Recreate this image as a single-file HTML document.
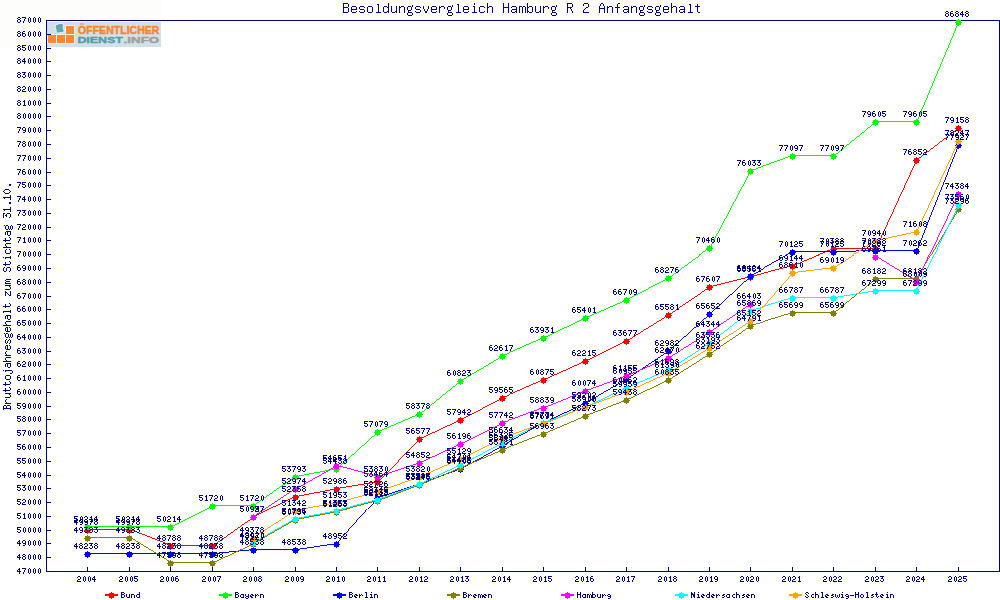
<!DOCTYPE html>
<html><head><meta charset="utf-8"><title>Besoldungsvergleich Hamburg R 2 Anfangsgehalt</title>
<style>html,body{margin:0;padding:0;background:#fff;overflow:hidden}svg{display:block}</style></head>
<body><svg width="1000" height="600" viewBox="0 0 1000 600" font-family="Liberation Sans, sans-serif">
<defs><path id="mk" d="M3 0h1v1h-1zM1 1h5v2h-5zM0 3h7v1h-7zM1 4h5v2h-5zM3 6h1v1h-1z"/><path id="a2d" d="M0 4h4v1h-4z"/><path id="a30" d="M2 1h1v1h-1zM1 2h1v1h-1zM3 2h1v1h-1zM1 3h1v1h-1zM3 3h1v1h-1zM1 4h1v1h-1zM3 4h1v1h-1zM1 5h1v1h-1zM3 5h1v1h-1zM2 6h1v1h-1z"/><path id="a31" d="M2 1h1v1h-1zM1 2h2v1h-2zM2 3h1v1h-1zM2 4h1v1h-1zM2 5h1v1h-1zM1 6h3v1h-3z"/><path id="a32" d="M1 1h2v1h-2zM0 2h1v1h-1zM3 2h1v1h-1zM3 3h1v1h-1zM1 4h2v1h-2zM0 5h1v1h-1zM0 6h4v1h-4z"/><path id="a33" d="M0 1h4v1h-4zM2 2h1v1h-1zM1 3h2v1h-2zM3 4h1v1h-1zM0 5h1v1h-1zM3 5h1v1h-1zM1 6h2v1h-2z"/><path id="a34" d="M2 1h1v1h-1zM1 2h2v1h-2zM0 3h1v1h-1zM2 3h1v1h-1zM0 4h4v1h-4zM2 5h1v1h-1zM2 6h1v1h-1z"/><path id="a35" d="M0 1h4v1h-4zM0 2h1v1h-1zM0 3h3v1h-3zM3 4h1v1h-1zM0 5h1v1h-1zM3 5h1v1h-1zM1 6h2v1h-2z"/><path id="a36" d="M1 1h2v1h-2zM0 2h1v1h-1zM0 3h3v1h-3zM0 4h1v1h-1zM3 4h1v1h-1zM0 5h1v1h-1zM3 5h1v1h-1zM1 6h2v1h-2z"/><path id="a37" d="M0 1h4v1h-4zM3 2h1v1h-1zM2 3h1v1h-1zM2 4h1v1h-1zM1 5h1v1h-1zM1 6h1v1h-1z"/><path id="a38" d="M1 1h2v1h-2zM0 2h1v1h-1zM3 2h1v1h-1zM1 3h2v1h-2zM0 4h1v1h-1zM3 4h1v1h-1zM0 5h1v1h-1zM3 5h1v1h-1zM1 6h2v1h-2z"/><path id="a39" d="M1 1h2v1h-2zM0 2h1v1h-1zM3 2h1v1h-1zM0 3h1v1h-1zM3 3h1v1h-1zM1 4h3v1h-3zM3 5h1v1h-1zM1 6h2v1h-2z"/><path id="a42" d="M0 1h3v1h-3zM0 2h1v1h-1zM3 2h1v1h-1zM0 3h3v1h-3zM0 4h1v1h-1zM3 4h1v1h-1zM0 5h1v1h-1zM3 5h1v1h-1zM0 6h3v1h-3z"/><path id="a48" d="M0 1h1v1h-1zM3 1h1v1h-1zM0 2h1v1h-1zM3 2h1v1h-1zM0 3h4v1h-4zM0 4h1v1h-1zM3 4h1v1h-1zM0 5h1v1h-1zM3 5h1v1h-1zM0 6h1v1h-1zM3 6h1v1h-1z"/><path id="a4e" d="M0 1h1v1h-1zM3 1h1v1h-1zM0 2h2v1h-2zM3 2h1v1h-1zM0 3h4v1h-4zM0 4h1v1h-1zM2 4h2v1h-2zM0 5h1v1h-1zM2 5h2v1h-2zM0 6h1v1h-1zM3 6h1v1h-1z"/><path id="a53" d="M1 1h2v1h-2zM0 2h1v1h-1zM3 2h1v1h-1zM1 3h1v1h-1zM2 4h1v1h-1zM0 5h1v1h-1zM3 5h1v1h-1zM1 6h2v1h-2z"/><path id="a61" d="M1 3h3v1h-3zM0 4h1v1h-1zM3 4h1v1h-1zM0 5h1v1h-1zM3 5h1v1h-1zM1 6h3v1h-3z"/><path id="a62" d="M0 1h1v1h-1zM0 2h1v1h-1zM0 3h3v1h-3zM0 4h1v1h-1zM3 4h1v1h-1zM0 5h1v1h-1zM3 5h1v1h-1zM0 6h3v1h-3z"/><path id="a63" d="M2 3h2v1h-2zM1 4h1v1h-1zM1 5h1v1h-1zM2 6h2v1h-2z"/><path id="a64" d="M3 1h1v1h-1zM3 2h1v1h-1zM1 3h3v1h-3zM0 4h1v1h-1zM3 4h1v1h-1zM0 5h1v1h-1zM3 5h1v1h-1zM1 6h3v1h-3z"/><path id="a65" d="M1 3h2v1h-2zM0 4h1v1h-1zM2 4h2v1h-2zM0 5h2v1h-2zM1 6h2v1h-2z"/><path id="a67" d="M1 3h2v1h-2zM0 4h1v1h-1zM3 4h1v1h-1zM1 5h3v1h-3zM3 6h1v1h-1zM1 7h2v1h-2z"/><path id="a68" d="M0 1h1v1h-1zM0 2h1v1h-1zM0 3h3v1h-3zM0 4h1v1h-1zM3 4h1v1h-1zM0 5h1v1h-1zM3 5h1v1h-1zM0 6h1v1h-1zM3 6h1v1h-1z"/><path id="a69" d="M2 1h1v1h-1zM1 3h2v1h-2zM2 4h1v1h-1zM2 5h1v1h-1zM1 6h3v1h-3z"/><path id="a6c" d="M1 1h2v1h-2zM2 2h1v1h-1zM2 3h1v1h-1zM2 4h1v1h-1zM2 5h1v1h-1zM1 6h3v1h-3z"/><path id="a6d" d="M0 3h2v1h-2zM3 3h1v1h-1zM0 4h1v1h-1zM2 4h1v1h-1zM4 4h1v1h-1zM0 5h1v1h-1zM2 5h1v1h-1zM4 5h1v1h-1zM0 6h1v1h-1zM2 6h1v1h-1zM4 6h1v1h-1z"/><path id="a6e" d="M0 3h3v1h-3zM0 4h1v1h-1zM3 4h1v1h-1zM0 5h1v1h-1zM3 5h1v1h-1zM0 6h1v1h-1zM3 6h1v1h-1z"/><path id="a6f" d="M1 3h2v1h-2zM0 4h1v1h-1zM3 4h1v1h-1zM0 5h1v1h-1zM3 5h1v1h-1zM1 6h2v1h-2z"/><path id="a72" d="M0 3h1v1h-1zM2 3h1v1h-1zM0 4h2v1h-2zM3 4h1v1h-1zM0 5h1v1h-1zM0 6h1v1h-1z"/><path id="a73" d="M2 3h2v1h-2zM1 4h2v1h-2zM3 5h1v1h-1zM1 6h2v1h-2z"/><path id="a74" d="M1 1h1v1h-1zM1 2h1v1h-1zM0 3h3v1h-3zM1 4h1v1h-1zM1 5h1v1h-1zM3 5h1v1h-1zM2 6h1v1h-1z"/><path id="a75" d="M0 3h1v1h-1zM3 3h1v1h-1zM0 4h1v1h-1zM3 4h1v1h-1zM0 5h1v1h-1zM3 5h1v1h-1zM1 6h3v1h-3z"/><path id="a77" d="M0 3h1v1h-1zM4 3h1v1h-1zM0 4h1v1h-1zM2 4h1v1h-1zM4 4h1v1h-1zM0 5h1v1h-1zM2 5h1v1h-1zM4 5h1v1h-1zM1 6h1v1h-1zM3 6h1v1h-1z"/><path id="a79" d="M0 3h1v1h-1zM3 3h1v1h-1zM0 4h1v1h-1zM3 4h1v1h-1zM1 5h3v1h-3zM0 6h1v1h-1zM3 6h1v1h-1zM1 7h2v1h-2z"/><path id="b2e" d="M2 9h2v1h-2zM2 10h2v1h-2z"/><path id="b30" d="M2 3h1v1h-1zM1 4h1v1h-1zM3 4h1v1h-1zM0 5h1v1h-1zM4 5h1v1h-1zM0 6h1v1h-1zM4 6h1v1h-1zM0 7h1v1h-1zM4 7h1v1h-1zM0 8h1v1h-1zM4 8h1v1h-1zM1 9h1v1h-1zM3 9h1v1h-1zM2 10h1v1h-1z"/><path id="b31" d="M2 3h1v1h-1zM1 4h2v1h-2zM2 5h1v1h-1zM2 6h1v1h-1zM2 7h1v1h-1zM2 8h1v1h-1zM2 9h1v1h-1zM0 10h5v1h-5z"/><path id="b33" d="M0 3h5v1h-5zM4 4h1v1h-1zM2 5h1v1h-1zM1 6h3v1h-3zM4 7h1v1h-1zM4 8h1v1h-1zM0 9h1v1h-1zM4 9h1v1h-1zM1 10h3v1h-3z"/><path id="b42" d="M0 3h4v1h-4zM1 4h1v1h-1zM4 4h1v1h-1zM1 5h1v1h-1zM4 5h1v1h-1zM1 6h3v1h-3zM1 7h1v1h-1zM4 7h1v1h-1zM1 8h1v1h-1zM4 8h1v1h-1zM1 9h1v1h-1zM4 9h1v1h-1zM0 10h4v1h-4z"/><path id="b53" d="M1 3h3v1h-3zM0 4h1v1h-1zM4 4h1v1h-1zM0 5h1v1h-1zM1 6h3v1h-3zM4 7h1v1h-1zM4 8h1v1h-1zM0 9h1v1h-1zM4 9h1v1h-1zM1 10h3v1h-3z"/><path id="b61" d="M1 5h3v1h-3zM4 6h1v1h-1zM1 7h4v1h-4zM0 8h1v1h-1zM4 8h1v1h-1zM0 9h1v1h-1zM4 9h1v1h-1zM1 10h4v1h-4z"/><path id="b63" d="M1 5h3v1h-3zM0 6h1v1h-1zM4 6h1v1h-1zM0 7h1v1h-1zM0 8h1v1h-1zM0 9h1v1h-1zM4 9h1v1h-1zM1 10h3v1h-3z"/><path id="b65" d="M1 5h3v1h-3zM0 6h1v1h-1zM4 6h1v1h-1zM0 7h5v1h-5zM0 8h1v1h-1zM0 9h1v1h-1zM4 9h1v1h-1zM1 10h3v1h-3z"/><path id="b67" d="M4 4h1v1h-1zM1 5h3v1h-3zM0 6h1v1h-1zM4 6h1v1h-1zM0 7h1v1h-1zM4 7h1v1h-1zM1 8h3v1h-3zM0 9h1v1h-1zM1 10h3v1h-3zM0 11h1v1h-1zM4 11h1v1h-1zM1 12h3v1h-3z"/><path id="b68" d="M0 3h1v1h-1zM0 4h1v1h-1zM0 5h1v1h-1zM2 5h2v1h-2zM0 6h2v1h-2zM4 6h1v1h-1zM0 7h1v1h-1zM4 7h1v1h-1zM0 8h1v1h-1zM4 8h1v1h-1zM0 9h1v1h-1zM4 9h1v1h-1zM0 10h1v1h-1zM4 10h1v1h-1z"/><path id="b69" d="M2 3h1v1h-1zM1 5h2v1h-2zM2 6h1v1h-1zM2 7h1v1h-1zM2 8h1v1h-1zM2 9h1v1h-1zM1 10h3v1h-3z"/><path id="b6a" d="M3 3h1v1h-1zM2 5h2v1h-2zM3 6h1v1h-1zM3 7h1v1h-1zM3 8h1v1h-1zM3 9h1v1h-1zM0 10h1v1h-1zM3 10h1v1h-1zM0 11h1v1h-1zM3 11h1v1h-1zM1 12h2v1h-2z"/><path id="b6c" d="M1 3h2v1h-2zM2 4h1v1h-1zM2 5h1v1h-1zM2 6h1v1h-1zM2 7h1v1h-1zM2 8h1v1h-1zM2 9h1v1h-1zM1 10h3v1h-3z"/><path id="b6d" d="M0 5h2v1h-2zM3 5h1v1h-1zM0 6h1v1h-1zM2 6h1v1h-1zM4 6h1v1h-1zM0 7h1v1h-1zM2 7h1v1h-1zM4 7h1v1h-1zM0 8h1v1h-1zM2 8h1v1h-1zM4 8h1v1h-1zM0 9h1v1h-1zM2 9h1v1h-1zM4 9h1v1h-1zM0 10h1v1h-1zM4 10h1v1h-1z"/><path id="b6f" d="M1 5h3v1h-3zM0 6h1v1h-1zM4 6h1v1h-1zM0 7h1v1h-1zM4 7h1v1h-1zM0 8h1v1h-1zM4 8h1v1h-1zM0 9h1v1h-1zM4 9h1v1h-1zM1 10h3v1h-3z"/><path id="b72" d="M0 5h1v1h-1zM2 5h2v1h-2zM0 6h2v1h-2zM4 6h1v1h-1zM0 7h1v1h-1zM0 8h1v1h-1zM0 9h1v1h-1zM0 10h1v1h-1z"/><path id="b73" d="M1 5h3v1h-3zM0 6h1v1h-1zM4 6h1v1h-1zM1 7h2v1h-2zM3 8h1v1h-1zM0 9h1v1h-1zM4 9h1v1h-1zM1 10h3v1h-3z"/><path id="b74" d="M1 3h1v1h-1zM1 4h1v1h-1zM0 5h4v1h-4zM1 6h1v1h-1zM1 7h1v1h-1zM1 8h1v1h-1zM1 9h1v1h-1zM4 9h1v1h-1zM2 10h2v1h-2z"/><path id="b75" d="M0 5h1v1h-1zM4 5h1v1h-1zM0 6h1v1h-1zM4 6h1v1h-1zM0 7h1v1h-1zM4 7h1v1h-1zM0 8h1v1h-1zM4 8h1v1h-1zM0 9h1v1h-1zM3 9h2v1h-2zM1 10h2v1h-2zM4 10h1v1h-1z"/><path id="b7a" d="M0 5h5v1h-5zM3 6h1v1h-1zM2 7h1v1h-1zM1 8h1v1h-1zM0 9h1v1h-1zM0 10h5v1h-5z"/><path id="c32" d="M2 3h4v1h-4zM1 4h1v1h-1zM6 4h1v1h-1zM1 5h1v1h-1zM6 5h1v1h-1zM6 6h1v1h-1zM4 7h2v1h-2zM3 8h1v1h-1zM2 9h1v1h-1zM1 10h1v1h-1zM1 11h1v1h-1zM1 12h6v1h-6z"/><path id="c41" d="M3 3h2v1h-2zM2 4h1v1h-1zM5 4h1v1h-1zM2 5h1v1h-1zM5 5h1v1h-1zM1 6h1v1h-1zM6 6h1v1h-1zM1 7h1v1h-1zM6 7h1v1h-1zM1 8h6v1h-6zM1 9h1v1h-1zM6 9h1v1h-1zM1 10h1v1h-1zM6 10h1v1h-1zM1 11h1v1h-1zM6 11h1v1h-1zM1 12h1v1h-1zM6 12h1v1h-1z"/><path id="c42" d="M1 3h5v1h-5zM1 4h1v1h-1zM6 4h1v1h-1zM1 5h1v1h-1zM6 5h1v1h-1zM1 6h1v1h-1zM6 6h1v1h-1zM1 7h5v1h-5zM1 8h1v1h-1zM6 8h1v1h-1zM1 9h1v1h-1zM6 9h1v1h-1zM1 10h1v1h-1zM6 10h1v1h-1zM1 11h1v1h-1zM6 11h1v1h-1zM1 12h5v1h-5z"/><path id="c48" d="M1 3h1v1h-1zM6 3h1v1h-1zM1 4h1v1h-1zM6 4h1v1h-1zM1 5h1v1h-1zM6 5h1v1h-1zM1 6h1v1h-1zM6 6h1v1h-1zM1 7h6v1h-6zM1 8h1v1h-1zM6 8h1v1h-1zM1 9h1v1h-1zM6 9h1v1h-1zM1 10h1v1h-1zM6 10h1v1h-1zM1 11h1v1h-1zM6 11h1v1h-1zM1 12h1v1h-1zM6 12h1v1h-1z"/><path id="c52" d="M1 3h5v1h-5zM1 4h1v1h-1zM6 4h1v1h-1zM1 5h1v1h-1zM6 5h1v1h-1zM1 6h1v1h-1zM6 6h1v1h-1zM1 7h5v1h-5zM1 8h1v1h-1zM4 8h1v1h-1zM1 9h1v1h-1zM5 9h1v1h-1zM1 10h1v1h-1zM5 10h1v1h-1zM1 11h1v1h-1zM6 11h1v1h-1zM1 12h1v1h-1zM6 12h1v1h-1z"/><path id="c61" d="M2 6h4v1h-4zM1 7h1v1h-1zM6 7h1v1h-1zM6 8h1v1h-1zM2 9h5v1h-5zM1 10h1v1h-1zM6 10h1v1h-1zM1 11h1v1h-1zM5 11h2v1h-2zM2 12h3v1h-3zM6 12h1v1h-1z"/><path id="c62" d="M1 3h1v1h-1zM1 4h1v1h-1zM1 5h1v1h-1zM1 6h1v1h-1zM3 6h3v1h-3zM1 7h2v1h-2zM6 7h1v1h-1zM1 8h1v1h-1zM6 8h1v1h-1zM1 9h1v1h-1zM6 9h1v1h-1zM1 10h1v1h-1zM6 10h1v1h-1zM1 11h2v1h-2zM6 11h1v1h-1zM1 12h1v1h-1zM3 12h3v1h-3z"/><path id="c63" d="M2 6h4v1h-4zM1 7h1v1h-1zM6 7h1v1h-1zM1 8h1v1h-1zM1 9h1v1h-1zM1 10h1v1h-1zM1 11h1v1h-1zM6 11h1v1h-1zM2 12h4v1h-4z"/><path id="c64" d="M6 3h1v1h-1zM6 4h1v1h-1zM6 5h1v1h-1zM2 6h3v1h-3zM6 6h1v1h-1zM1 7h1v1h-1zM5 7h2v1h-2zM1 8h1v1h-1zM6 8h1v1h-1zM1 9h1v1h-1zM6 9h1v1h-1zM1 10h1v1h-1zM6 10h1v1h-1zM1 11h1v1h-1zM5 11h2v1h-2zM2 12h3v1h-3zM6 12h1v1h-1z"/><path id="c65" d="M2 6h4v1h-4zM1 7h1v1h-1zM6 7h1v1h-1zM1 8h1v1h-1zM6 8h1v1h-1zM1 9h6v1h-6zM1 10h1v1h-1zM1 11h1v1h-1zM6 11h1v1h-1zM2 12h4v1h-4z"/><path id="c66" d="M4 3h2v1h-2zM3 4h1v1h-1zM3 5h1v1h-1zM3 6h1v1h-1zM1 7h5v1h-5zM3 8h1v1h-1zM3 9h1v1h-1zM3 10h1v1h-1zM3 11h1v1h-1zM3 12h1v1h-1z"/><path id="c67" d="M6 5h1v1h-1zM2 6h3v1h-3zM6 6h1v1h-1zM1 7h1v1h-1zM5 7h1v1h-1zM1 8h1v1h-1zM5 8h1v1h-1zM1 9h1v1h-1zM5 9h1v1h-1zM2 10h3v1h-3zM2 11h1v1h-1zM2 12h4v1h-4zM1 13h1v1h-1zM6 13h1v1h-1zM1 14h1v1h-1zM6 14h1v1h-1zM2 15h4v1h-4z"/><path id="c68" d="M1 3h1v1h-1zM1 4h1v1h-1zM1 5h1v1h-1zM1 6h1v1h-1zM3 6h3v1h-3zM1 7h2v1h-2zM6 7h1v1h-1zM1 8h1v1h-1zM6 8h1v1h-1zM1 9h1v1h-1zM6 9h1v1h-1zM1 10h1v1h-1zM6 10h1v1h-1zM1 11h1v1h-1zM6 11h1v1h-1zM1 12h1v1h-1zM6 12h1v1h-1z"/><path id="c69" d="M4 3h1v1h-1zM4 4h1v1h-1zM3 6h2v1h-2zM4 7h1v1h-1zM4 8h1v1h-1zM4 9h1v1h-1zM4 10h1v1h-1zM4 11h1v1h-1zM2 12h5v1h-5z"/><path id="c6c" d="M3 4h2v1h-2zM4 5h1v1h-1zM4 6h1v1h-1zM4 7h1v1h-1zM4 8h1v1h-1zM4 9h1v1h-1zM4 10h1v1h-1zM4 11h1v1h-1zM2 12h5v1h-5z"/><path id="c6d" d="M1 6h3v1h-3zM5 6h2v1h-2zM1 7h1v1h-1zM4 7h1v1h-1zM7 7h1v1h-1zM1 8h1v1h-1zM4 8h1v1h-1zM7 8h1v1h-1zM1 9h1v1h-1zM4 9h1v1h-1zM7 9h1v1h-1zM1 10h1v1h-1zM4 10h1v1h-1zM7 10h1v1h-1zM1 11h1v1h-1zM4 11h1v1h-1zM7 11h1v1h-1zM1 12h1v1h-1zM4 12h1v1h-1zM7 12h1v1h-1z"/><path id="c6e" d="M1 6h1v1h-1zM3 6h3v1h-3zM1 7h2v1h-2zM6 7h1v1h-1zM1 8h1v1h-1zM6 8h1v1h-1zM1 9h1v1h-1zM6 9h1v1h-1zM1 10h1v1h-1zM6 10h1v1h-1zM1 11h1v1h-1zM6 11h1v1h-1zM1 12h1v1h-1zM6 12h1v1h-1z"/><path id="c6f" d="M2 6h4v1h-4zM1 7h1v1h-1zM6 7h1v1h-1zM1 8h1v1h-1zM6 8h1v1h-1zM1 9h1v1h-1zM6 9h1v1h-1zM1 10h1v1h-1zM6 10h1v1h-1zM1 11h1v1h-1zM6 11h1v1h-1zM2 12h4v1h-4z"/><path id="c72" d="M1 6h1v1h-1zM3 6h3v1h-3zM1 7h2v1h-2zM6 7h1v1h-1zM1 8h1v1h-1zM6 8h1v1h-1zM1 9h1v1h-1zM1 10h1v1h-1zM1 11h1v1h-1zM1 12h1v1h-1z"/><path id="c73" d="M2 6h4v1h-4zM1 7h1v1h-1zM6 7h1v1h-1zM1 8h1v1h-1zM2 9h4v1h-4zM6 10h1v1h-1zM1 11h1v1h-1zM6 11h1v1h-1zM2 12h4v1h-4z"/><path id="c74" d="M3 4h1v1h-1zM3 5h1v1h-1zM1 6h5v1h-5zM3 7h1v1h-1zM3 8h1v1h-1zM3 9h1v1h-1zM3 10h1v1h-1zM3 11h1v1h-1zM4 12h2v1h-2z"/><path id="c75" d="M1 6h1v1h-1zM6 6h1v1h-1zM1 7h1v1h-1zM6 7h1v1h-1zM1 8h1v1h-1zM6 8h1v1h-1zM1 9h1v1h-1zM6 9h1v1h-1zM1 10h1v1h-1zM6 10h1v1h-1zM1 11h1v1h-1zM5 11h2v1h-2zM2 12h3v1h-3zM6 12h1v1h-1z"/><path id="c76" d="M1 6h1v1h-1zM6 6h1v1h-1zM1 7h1v1h-1zM6 7h1v1h-1zM1 8h1v1h-1zM6 8h1v1h-1zM2 9h1v1h-1zM5 9h1v1h-1zM2 10h1v1h-1zM5 10h1v1h-1zM3 11h2v1h-2zM3 12h2v1h-2z"/></defs>
<rect width="1000" height="600" fill="#fff"/>
<rect x="0" y="0" width="161" height="47" fill="#fdfdfb"/>
<g>
<rect x="47" y="22" width="114" height="25" fill="#d2e0e8"/>
<rect x="47.4" y="34.2" width="27.4" height="9.4" fill="#f4f8fa"/>
<rect x="65.2" y="25.4" width="9.6" height="9.6" fill="#f4f8fa"/>
<rect x="48" y="35" width="8" height="8" fill="#ff8732"/>
<rect x="57" y="35" width="8" height="8" fill="#ff8732"/>
<rect x="66" y="35" width="8" height="8" fill="#ff8732"/>
<rect x="66" y="26" width="8" height="8" fill="#ff8732"/>
<path d="M55.6 24.6 L58.2 24.2 L58.6 23.6 L62.8 23.4 L63.4 25.6 L63.2 28.2 L64.3 31 L63 32.5 L59.4 32.7 L58 33.2 L56.3 32.8 L56 29.6 L55.1 27.6 Z" fill="#5fa8b2" stroke="#f4f8fa" stroke-width="0.9" stroke-linejoin="round"/>
<g font-family="Liberation Sans, sans-serif" font-weight="bold" stroke-width="0.4" stroke-linejoin="round">
<text x="78" y="33.8" font-size="10.6" fill="#ff8228" stroke="#ff8228" textLength="81.5" lengthAdjust="spacingAndGlyphs">OFFENTLICHER</text>
<rect x="79.8" y="23.5" width="4.4" height="1" fill="#ff8228"/>
<text x="77.4" y="42.8" font-size="9.6" fill="#4f9ea9" stroke="#4f9ea9" textLength="45.4" lengthAdjust="spacingAndGlyphs">DIENST</text>
<text x="123.6" y="42.8" font-size="9.6" fill="#9c9ea0" stroke="#9c9ea0" textLength="35.6" lengthAdjust="spacingAndGlyphs">.INFO</text>
</g>
</g>
<g fill="#000080"><rect x="46" y="20" width="954" height="1"/><rect x="46" y="20" width="1" height="552"/><rect x="46" y="571" width="954" height="1"/><rect x="999" y="20" width="1" height="552"/><rect x="47" y="571" width="4" height="1"/><use href="#a34" x="17" y="567"/><use href="#a37" x="22" y="567"/><use href="#a30" x="27" y="567"/><use href="#a30" x="32" y="567"/><use href="#a30" x="37" y="567"/><rect x="47" y="557" width="4" height="1"/><use href="#a34" x="17" y="553"/><use href="#a38" x="22" y="553"/><use href="#a30" x="27" y="553"/><use href="#a30" x="32" y="553"/><use href="#a30" x="37" y="553"/><rect x="47" y="543" width="4" height="1"/><use href="#a34" x="17" y="539"/><use href="#a39" x="22" y="539"/><use href="#a30" x="27" y="539"/><use href="#a30" x="32" y="539"/><use href="#a30" x="37" y="539"/><rect x="47" y="530" width="4" height="1"/><use href="#a35" x="17" y="526"/><use href="#a30" x="22" y="526"/><use href="#a30" x="27" y="526"/><use href="#a30" x="32" y="526"/><use href="#a30" x="37" y="526"/><rect x="47" y="516" width="4" height="1"/><use href="#a35" x="17" y="512"/><use href="#a31" x="22" y="512"/><use href="#a30" x="27" y="512"/><use href="#a30" x="32" y="512"/><use href="#a30" x="37" y="512"/><rect x="47" y="502" width="4" height="1"/><use href="#a35" x="17" y="498"/><use href="#a32" x="22" y="498"/><use href="#a30" x="27" y="498"/><use href="#a30" x="32" y="498"/><use href="#a30" x="37" y="498"/><rect x="47" y="488" width="4" height="1"/><use href="#a35" x="17" y="484"/><use href="#a33" x="22" y="484"/><use href="#a30" x="27" y="484"/><use href="#a30" x="32" y="484"/><use href="#a30" x="37" y="484"/><rect x="47" y="475" width="4" height="1"/><use href="#a35" x="17" y="471"/><use href="#a34" x="22" y="471"/><use href="#a30" x="27" y="471"/><use href="#a30" x="32" y="471"/><use href="#a30" x="37" y="471"/><rect x="47" y="461" width="4" height="1"/><use href="#a35" x="17" y="457"/><use href="#a35" x="22" y="457"/><use href="#a30" x="27" y="457"/><use href="#a30" x="32" y="457"/><use href="#a30" x="37" y="457"/><rect x="47" y="447" width="4" height="1"/><use href="#a35" x="17" y="443"/><use href="#a36" x="22" y="443"/><use href="#a30" x="27" y="443"/><use href="#a30" x="32" y="443"/><use href="#a30" x="37" y="443"/><rect x="47" y="433" width="4" height="1"/><use href="#a35" x="17" y="429"/><use href="#a37" x="22" y="429"/><use href="#a30" x="27" y="429"/><use href="#a30" x="32" y="429"/><use href="#a30" x="37" y="429"/><rect x="47" y="419" width="4" height="1"/><use href="#a35" x="17" y="415"/><use href="#a38" x="22" y="415"/><use href="#a30" x="27" y="415"/><use href="#a30" x="32" y="415"/><use href="#a30" x="37" y="415"/><rect x="47" y="406" width="4" height="1"/><use href="#a35" x="17" y="402"/><use href="#a39" x="22" y="402"/><use href="#a30" x="27" y="402"/><use href="#a30" x="32" y="402"/><use href="#a30" x="37" y="402"/><rect x="47" y="392" width="4" height="1"/><use href="#a36" x="17" y="388"/><use href="#a30" x="22" y="388"/><use href="#a30" x="27" y="388"/><use href="#a30" x="32" y="388"/><use href="#a30" x="37" y="388"/><rect x="47" y="378" width="4" height="1"/><use href="#a36" x="17" y="374"/><use href="#a31" x="22" y="374"/><use href="#a30" x="27" y="374"/><use href="#a30" x="32" y="374"/><use href="#a30" x="37" y="374"/><rect x="47" y="364" width="4" height="1"/><use href="#a36" x="17" y="360"/><use href="#a32" x="22" y="360"/><use href="#a30" x="27" y="360"/><use href="#a30" x="32" y="360"/><use href="#a30" x="37" y="360"/><rect x="47" y="351" width="4" height="1"/><use href="#a36" x="17" y="347"/><use href="#a33" x="22" y="347"/><use href="#a30" x="27" y="347"/><use href="#a30" x="32" y="347"/><use href="#a30" x="37" y="347"/><rect x="47" y="337" width="4" height="1"/><use href="#a36" x="17" y="333"/><use href="#a34" x="22" y="333"/><use href="#a30" x="27" y="333"/><use href="#a30" x="32" y="333"/><use href="#a30" x="37" y="333"/><rect x="47" y="323" width="4" height="1"/><use href="#a36" x="17" y="319"/><use href="#a35" x="22" y="319"/><use href="#a30" x="27" y="319"/><use href="#a30" x="32" y="319"/><use href="#a30" x="37" y="319"/><rect x="47" y="309" width="4" height="1"/><use href="#a36" x="17" y="305"/><use href="#a36" x="22" y="305"/><use href="#a30" x="27" y="305"/><use href="#a30" x="32" y="305"/><use href="#a30" x="37" y="305"/><rect x="47" y="296" width="4" height="1"/><use href="#a36" x="17" y="292"/><use href="#a37" x="22" y="292"/><use href="#a30" x="27" y="292"/><use href="#a30" x="32" y="292"/><use href="#a30" x="37" y="292"/><rect x="47" y="282" width="4" height="1"/><use href="#a36" x="17" y="278"/><use href="#a38" x="22" y="278"/><use href="#a30" x="27" y="278"/><use href="#a30" x="32" y="278"/><use href="#a30" x="37" y="278"/><rect x="47" y="268" width="4" height="1"/><use href="#a36" x="17" y="264"/><use href="#a39" x="22" y="264"/><use href="#a30" x="27" y="264"/><use href="#a30" x="32" y="264"/><use href="#a30" x="37" y="264"/><rect x="47" y="254" width="4" height="1"/><use href="#a37" x="17" y="250"/><use href="#a30" x="22" y="250"/><use href="#a30" x="27" y="250"/><use href="#a30" x="32" y="250"/><use href="#a30" x="37" y="250"/><rect x="47" y="240" width="4" height="1"/><use href="#a37" x="17" y="236"/><use href="#a31" x="22" y="236"/><use href="#a30" x="27" y="236"/><use href="#a30" x="32" y="236"/><use href="#a30" x="37" y="236"/><rect x="47" y="227" width="4" height="1"/><use href="#a37" x="17" y="223"/><use href="#a32" x="22" y="223"/><use href="#a30" x="27" y="223"/><use href="#a30" x="32" y="223"/><use href="#a30" x="37" y="223"/><rect x="47" y="213" width="4" height="1"/><use href="#a37" x="17" y="209"/><use href="#a33" x="22" y="209"/><use href="#a30" x="27" y="209"/><use href="#a30" x="32" y="209"/><use href="#a30" x="37" y="209"/><rect x="47" y="199" width="4" height="1"/><use href="#a37" x="17" y="195"/><use href="#a34" x="22" y="195"/><use href="#a30" x="27" y="195"/><use href="#a30" x="32" y="195"/><use href="#a30" x="37" y="195"/><rect x="47" y="185" width="4" height="1"/><use href="#a37" x="17" y="181"/><use href="#a35" x="22" y="181"/><use href="#a30" x="27" y="181"/><use href="#a30" x="32" y="181"/><use href="#a30" x="37" y="181"/><rect x="47" y="172" width="4" height="1"/><use href="#a37" x="17" y="168"/><use href="#a36" x="22" y="168"/><use href="#a30" x="27" y="168"/><use href="#a30" x="32" y="168"/><use href="#a30" x="37" y="168"/><rect x="47" y="158" width="4" height="1"/><use href="#a37" x="17" y="154"/><use href="#a37" x="22" y="154"/><use href="#a30" x="27" y="154"/><use href="#a30" x="32" y="154"/><use href="#a30" x="37" y="154"/><rect x="47" y="144" width="4" height="1"/><use href="#a37" x="17" y="140"/><use href="#a38" x="22" y="140"/><use href="#a30" x="27" y="140"/><use href="#a30" x="32" y="140"/><use href="#a30" x="37" y="140"/><rect x="47" y="130" width="4" height="1"/><use href="#a37" x="17" y="126"/><use href="#a39" x="22" y="126"/><use href="#a30" x="27" y="126"/><use href="#a30" x="32" y="126"/><use href="#a30" x="37" y="126"/><rect x="47" y="116" width="4" height="1"/><use href="#a38" x="17" y="112"/><use href="#a30" x="22" y="112"/><use href="#a30" x="27" y="112"/><use href="#a30" x="32" y="112"/><use href="#a30" x="37" y="112"/><rect x="47" y="103" width="4" height="1"/><use href="#a38" x="17" y="99"/><use href="#a31" x="22" y="99"/><use href="#a30" x="27" y="99"/><use href="#a30" x="32" y="99"/><use href="#a30" x="37" y="99"/><rect x="47" y="89" width="4" height="1"/><use href="#a38" x="17" y="85"/><use href="#a32" x="22" y="85"/><use href="#a30" x="27" y="85"/><use href="#a30" x="32" y="85"/><use href="#a30" x="37" y="85"/><rect x="47" y="75" width="4" height="1"/><use href="#a38" x="17" y="71"/><use href="#a33" x="22" y="71"/><use href="#a30" x="27" y="71"/><use href="#a30" x="32" y="71"/><use href="#a30" x="37" y="71"/><rect x="47" y="61" width="4" height="1"/><use href="#a38" x="17" y="57"/><use href="#a34" x="22" y="57"/><use href="#a30" x="27" y="57"/><use href="#a30" x="32" y="57"/><use href="#a30" x="37" y="57"/><rect x="47" y="48" width="4" height="1"/><use href="#a38" x="17" y="44"/><use href="#a35" x="22" y="44"/><use href="#a30" x="27" y="44"/><use href="#a30" x="32" y="44"/><use href="#a30" x="37" y="44"/><rect x="47" y="34" width="4" height="1"/><use href="#a38" x="17" y="30"/><use href="#a36" x="22" y="30"/><use href="#a30" x="27" y="30"/><use href="#a30" x="32" y="30"/><use href="#a30" x="37" y="30"/><rect x="47" y="20" width="4" height="1"/><use href="#a38" x="17" y="16"/><use href="#a37" x="22" y="16"/><use href="#a30" x="27" y="16"/><use href="#a30" x="32" y="16"/><use href="#a30" x="37" y="16"/><rect x="87" y="567" width="1" height="4"/><use href="#a32" x="77" y="575"/><use href="#a30" x="82" y="575"/><use href="#a30" x="87" y="575"/><use href="#a34" x="92" y="575"/><rect x="129" y="567" width="1" height="4"/><use href="#a32" x="119" y="575"/><use href="#a30" x="124" y="575"/><use href="#a30" x="129" y="575"/><use href="#a35" x="134" y="575"/><rect x="170" y="567" width="1" height="4"/><use href="#a32" x="160" y="575"/><use href="#a30" x="165" y="575"/><use href="#a30" x="170" y="575"/><use href="#a36" x="175" y="575"/><rect x="212" y="567" width="1" height="4"/><use href="#a32" x="202" y="575"/><use href="#a30" x="207" y="575"/><use href="#a30" x="212" y="575"/><use href="#a37" x="217" y="575"/><rect x="253" y="567" width="1" height="4"/><use href="#a32" x="243" y="575"/><use href="#a30" x="248" y="575"/><use href="#a30" x="253" y="575"/><use href="#a38" x="258" y="575"/><rect x="295" y="567" width="1" height="4"/><use href="#a32" x="285" y="575"/><use href="#a30" x="290" y="575"/><use href="#a30" x="295" y="575"/><use href="#a39" x="300" y="575"/><rect x="336" y="567" width="1" height="4"/><use href="#a32" x="326" y="575"/><use href="#a30" x="331" y="575"/><use href="#a31" x="336" y="575"/><use href="#a30" x="341" y="575"/><rect x="377" y="567" width="1" height="4"/><use href="#a32" x="367" y="575"/><use href="#a30" x="372" y="575"/><use href="#a31" x="377" y="575"/><use href="#a31" x="382" y="575"/><rect x="419" y="567" width="1" height="4"/><use href="#a32" x="409" y="575"/><use href="#a30" x="414" y="575"/><use href="#a31" x="419" y="575"/><use href="#a32" x="424" y="575"/><rect x="460" y="567" width="1" height="4"/><use href="#a32" x="450" y="575"/><use href="#a30" x="455" y="575"/><use href="#a31" x="460" y="575"/><use href="#a33" x="465" y="575"/><rect x="502" y="567" width="1" height="4"/><use href="#a32" x="492" y="575"/><use href="#a30" x="497" y="575"/><use href="#a31" x="502" y="575"/><use href="#a34" x="507" y="575"/><rect x="543" y="567" width="1" height="4"/><use href="#a32" x="533" y="575"/><use href="#a30" x="538" y="575"/><use href="#a31" x="543" y="575"/><use href="#a35" x="548" y="575"/><rect x="585" y="567" width="1" height="4"/><use href="#a32" x="575" y="575"/><use href="#a30" x="580" y="575"/><use href="#a31" x="585" y="575"/><use href="#a36" x="590" y="575"/><rect x="626" y="567" width="1" height="4"/><use href="#a32" x="616" y="575"/><use href="#a30" x="621" y="575"/><use href="#a31" x="626" y="575"/><use href="#a37" x="631" y="575"/><rect x="668" y="567" width="1" height="4"/><use href="#a32" x="658" y="575"/><use href="#a30" x="663" y="575"/><use href="#a31" x="668" y="575"/><use href="#a38" x="673" y="575"/><rect x="709" y="567" width="1" height="4"/><use href="#a32" x="699" y="575"/><use href="#a30" x="704" y="575"/><use href="#a31" x="709" y="575"/><use href="#a39" x="714" y="575"/><rect x="750" y="567" width="1" height="4"/><use href="#a32" x="740" y="575"/><use href="#a30" x="745" y="575"/><use href="#a32" x="750" y="575"/><use href="#a30" x="755" y="575"/><rect x="792" y="567" width="1" height="4"/><use href="#a32" x="782" y="575"/><use href="#a30" x="787" y="575"/><use href="#a32" x="792" y="575"/><use href="#a31" x="797" y="575"/><rect x="833" y="567" width="1" height="4"/><use href="#a32" x="823" y="575"/><use href="#a30" x="828" y="575"/><use href="#a32" x="833" y="575"/><use href="#a32" x="838" y="575"/><rect x="875" y="567" width="1" height="4"/><use href="#a32" x="865" y="575"/><use href="#a30" x="870" y="575"/><use href="#a32" x="875" y="575"/><use href="#a33" x="880" y="575"/><rect x="916" y="567" width="1" height="4"/><use href="#a32" x="906" y="575"/><use href="#a30" x="911" y="575"/><use href="#a32" x="916" y="575"/><use href="#a34" x="921" y="575"/><rect x="958" y="567" width="1" height="4"/><use href="#a32" x="948" y="575"/><use href="#a30" x="953" y="575"/><use href="#a32" x="958" y="575"/><use href="#a35" x="963" y="575"/><use href="#c42" x="342" y="0"/><use href="#c65" x="350" y="0"/><use href="#c73" x="358" y="0"/><use href="#c6f" x="366" y="0"/><use href="#c6c" x="374" y="0"/><use href="#c64" x="382" y="0"/><use href="#c75" x="390" y="0"/><use href="#c6e" x="398" y="0"/><use href="#c67" x="406" y="0"/><use href="#c73" x="414" y="0"/><use href="#c76" x="422" y="0"/><use href="#c65" x="430" y="0"/><use href="#c72" x="438" y="0"/><use href="#c67" x="446" y="0"/><use href="#c6c" x="454" y="0"/><use href="#c65" x="462" y="0"/><use href="#c69" x="470" y="0"/><use href="#c63" x="478" y="0"/><use href="#c68" x="486" y="0"/><use href="#c48" x="502" y="0"/><use href="#c61" x="510" y="0"/><use href="#c6d" x="518" y="0"/><use href="#c62" x="526" y="0"/><use href="#c75" x="534" y="0"/><use href="#c72" x="542" y="0"/><use href="#c67" x="550" y="0"/><use href="#c52" x="566" y="0"/><use href="#c32" x="582" y="0"/><use href="#c41" x="598" y="0"/><use href="#c6e" x="606" y="0"/><use href="#c66" x="614" y="0"/><use href="#c61" x="622" y="0"/><use href="#c6e" x="630" y="0"/><use href="#c67" x="638" y="0"/><use href="#c73" x="646" y="0"/><use href="#c67" x="654" y="0"/><use href="#c65" x="662" y="0"/><use href="#c68" x="670" y="0"/><use href="#c61" x="678" y="0"/><use href="#c6c" x="686" y="0"/><use href="#c74" x="694" y="0"/><g transform="translate(0,410) rotate(-90)"><use href="#b42" x="0" y="0"/><use href="#b72" x="6" y="0"/><use href="#b75" x="12" y="0"/><use href="#b74" x="18" y="0"/><use href="#b74" x="24" y="0"/><use href="#b6f" x="30" y="0"/><use href="#b6a" x="36" y="0"/><use href="#b61" x="42" y="0"/><use href="#b68" x="48" y="0"/><use href="#b72" x="54" y="0"/><use href="#b65" x="60" y="0"/><use href="#b73" x="66" y="0"/><use href="#b67" x="72" y="0"/><use href="#b65" x="78" y="0"/><use href="#b68" x="84" y="0"/><use href="#b61" x="90" y="0"/><use href="#b6c" x="96" y="0"/><use href="#b74" x="102" y="0"/><use href="#b7a" x="114" y="0"/><use href="#b75" x="120" y="0"/><use href="#b6d" x="126" y="0"/><use href="#b53" x="138" y="0"/><use href="#b74" x="144" y="0"/><use href="#b69" x="150" y="0"/><use href="#b63" x="156" y="0"/><use href="#b68" x="162" y="0"/><use href="#b74" x="168" y="0"/><use href="#b61" x="174" y="0"/><use href="#b67" x="180" y="0"/><use href="#b33" x="192" y="0"/><use href="#b31" x="198" y="0"/><use href="#b2e" x="204" y="0"/><use href="#b31" x="210" y="0"/><use href="#b30" x="216" y="0"/><use href="#b2e" x="222" y="0"/></g></g>
<g stroke="#ff0000" shape-rendering="crispEdges"><line x1="87.5" y1="529.5" x2="129.5" y2="529.5" stroke-width="1.000"/><line x1="129.5" y1="529.5" x2="170.5" y2="545.5" stroke-width="0.990"/><line x1="170.5" y1="545.5" x2="212.5" y2="545.5" stroke-width="1.000"/><line x1="212.5" y1="545.5" x2="253.5" y2="516.5" stroke-width="0.990"/><line x1="253.5" y1="516.5" x2="295.5" y2="496.5" stroke-width="0.990"/><line x1="295.5" y1="496.5" x2="336.5" y2="488.5" stroke-width="0.990"/><line x1="336.5" y1="488.5" x2="377.5" y2="481.5" stroke-width="0.990"/><line x1="377.5" y1="481.5" x2="419.5" y2="438.5" stroke-width="0.990"/><line x1="419.5" y1="438.5" x2="460.5" y2="419.5" stroke-width="0.990"/><line x1="460.5" y1="419.5" x2="502.5" y2="397.5" stroke-width="0.990"/><line x1="502.5" y1="397.5" x2="543.5" y2="379.5" stroke-width="0.990"/><line x1="543.5" y1="379.5" x2="585.5" y2="360.5" stroke-width="0.990"/><line x1="585.5" y1="360.5" x2="626.5" y2="340.5" stroke-width="0.990"/><line x1="626.5" y1="340.5" x2="668.5" y2="314.5" stroke-width="0.990"/><line x1="668.5" y1="314.5" x2="709.5" y2="286.5" stroke-width="0.990"/><line x1="709.5" y1="286.5" x2="750.5" y2="276.5" stroke-width="0.990"/><line x1="750.5" y1="276.5" x2="792.5" y2="265.5" stroke-width="0.990"/><line x1="792.5" y1="265.5" x2="833.5" y2="248.5" stroke-width="0.990"/><line x1="833.5" y1="248.5" x2="875.5" y2="248.5" stroke-width="1.000"/><line x1="875.5" y1="248.5" x2="916.5" y2="159.5" stroke-width="0.990"/><line x1="916.5" y1="159.5" x2="958.5" y2="127.5" stroke-width="0.990"/></g>
<g fill="#ff0000"><use href="#mk" x="84" y="527"/><use href="#mk" x="126" y="527"/><use href="#mk" x="167" y="543"/><use href="#mk" x="209" y="543"/><use href="#mk" x="250" y="514"/><use href="#mk" x="292" y="494"/><use href="#mk" x="333" y="486"/><use href="#mk" x="374" y="479"/><use href="#mk" x="416" y="436"/><use href="#mk" x="457" y="417"/><use href="#mk" x="499" y="395"/><use href="#mk" x="540" y="377"/><use href="#mk" x="582" y="358"/><use href="#mk" x="623" y="338"/><use href="#mk" x="665" y="312"/><use href="#mk" x="706" y="284"/><use href="#mk" x="747" y="274"/><use href="#mk" x="789" y="263"/><use href="#mk" x="830" y="246"/><use href="#mk" x="872" y="246"/><use href="#mk" x="913" y="157"/><use href="#mk" x="955" y="125"/></g>
<g stroke="#00ff00" shape-rendering="crispEdges"><line x1="87.5" y1="526.5" x2="129.5" y2="526.5" stroke-width="1.000"/><line x1="129.5" y1="526.5" x2="170.5" y2="526.5" stroke-width="1.000"/><line x1="170.5" y1="526.5" x2="212.5" y2="505.5" stroke-width="0.990"/><line x1="212.5" y1="505.5" x2="253.5" y2="505.5" stroke-width="1.000"/><line x1="253.5" y1="505.5" x2="295.5" y2="476.5" stroke-width="0.990"/><line x1="295.5" y1="476.5" x2="336.5" y2="468.5" stroke-width="0.990"/><line x1="336.5" y1="468.5" x2="377.5" y2="431.5" stroke-width="0.990"/><line x1="377.5" y1="431.5" x2="419.5" y2="413.5" stroke-width="0.990"/><line x1="419.5" y1="413.5" x2="460.5" y2="380.5" stroke-width="0.990"/><line x1="460.5" y1="380.5" x2="502.5" y2="355.5" stroke-width="0.990"/><line x1="502.5" y1="355.5" x2="543.5" y2="337.5" stroke-width="0.990"/><line x1="543.5" y1="337.5" x2="585.5" y2="317.5" stroke-width="0.990"/><line x1="585.5" y1="317.5" x2="626.5" y2="299.5" stroke-width="0.990"/><line x1="626.5" y1="299.5" x2="668.5" y2="277.5" stroke-width="0.990"/><line x1="668.5" y1="277.5" x2="709.5" y2="247.5" stroke-width="0.990"/><line x1="709.5" y1="247.5" x2="750.5" y2="170.5" stroke-width="0.990"/><line x1="750.5" y1="170.5" x2="792.5" y2="155.5" stroke-width="0.990"/><line x1="792.5" y1="155.5" x2="833.5" y2="155.5" stroke-width="1.000"/><line x1="833.5" y1="155.5" x2="875.5" y2="121.5" stroke-width="0.990"/><line x1="875.5" y1="121.5" x2="916.5" y2="121.5" stroke-width="1.000"/><line x1="916.5" y1="121.5" x2="958.5" y2="21.5" stroke-width="0.990"/></g>
<g fill="#00ff00"><use href="#mk" x="84" y="524"/><use href="#mk" x="126" y="524"/><use href="#mk" x="167" y="524"/><use href="#mk" x="209" y="503"/><use href="#mk" x="250" y="503"/><use href="#mk" x="292" y="474"/><use href="#mk" x="333" y="466"/><use href="#mk" x="374" y="429"/><use href="#mk" x="416" y="411"/><use href="#mk" x="457" y="378"/><use href="#mk" x="499" y="353"/><use href="#mk" x="540" y="335"/><use href="#mk" x="582" y="315"/><use href="#mk" x="623" y="297"/><use href="#mk" x="665" y="275"/><use href="#mk" x="706" y="245"/><use href="#mk" x="747" y="168"/><use href="#mk" x="789" y="153"/><use href="#mk" x="830" y="153"/><use href="#mk" x="872" y="119"/><use href="#mk" x="913" y="119"/><use href="#mk" x="955" y="19"/></g>
<g stroke="#0000ff" shape-rendering="crispEdges"><line x1="87.5" y1="553.5" x2="129.5" y2="553.5" stroke-width="1.000"/><line x1="129.5" y1="553.5" x2="170.5" y2="553.5" stroke-width="1.000"/><line x1="170.5" y1="553.5" x2="212.5" y2="553.5" stroke-width="1.000"/><line x1="212.5" y1="553.5" x2="253.5" y2="549.5" stroke-width="0.990"/><line x1="253.5" y1="549.5" x2="295.5" y2="549.5" stroke-width="1.000"/><line x1="295.5" y1="549.5" x2="336.5" y2="543.5" stroke-width="0.990"/><line x1="336.5" y1="543.5" x2="377.5" y2="497.5" stroke-width="0.990"/><line x1="377.5" y1="497.5" x2="419.5" y2="483.5" stroke-width="0.990"/><line x1="419.5" y1="483.5" x2="460.5" y2="468.5" stroke-width="0.990"/><line x1="460.5" y1="468.5" x2="502.5" y2="445.5" stroke-width="0.990"/><line x1="502.5" y1="445.5" x2="543.5" y2="422.5" stroke-width="0.990"/><line x1="543.5" y1="422.5" x2="585.5" y2="402.5" stroke-width="0.990"/><line x1="585.5" y1="402.5" x2="626.5" y2="378.5" stroke-width="0.990"/><line x1="626.5" y1="378.5" x2="668.5" y2="350.5" stroke-width="0.990"/><line x1="668.5" y1="350.5" x2="709.5" y2="313.5" stroke-width="0.990"/><line x1="709.5" y1="313.5" x2="750.5" y2="275.5" stroke-width="0.990"/><line x1="750.5" y1="275.5" x2="792.5" y2="251.5" stroke-width="0.990"/><line x1="792.5" y1="251.5" x2="833.5" y2="251.5" stroke-width="1.000"/><line x1="833.5" y1="251.5" x2="875.5" y2="250.5" stroke-width="0.990"/><line x1="875.5" y1="250.5" x2="916.5" y2="250.5" stroke-width="1.000"/><line x1="916.5" y1="250.5" x2="958.5" y2="144.5" stroke-width="0.990"/></g>
<g fill="#0000ff"><use href="#mk" x="84" y="551"/><use href="#mk" x="126" y="551"/><use href="#mk" x="167" y="551"/><use href="#mk" x="209" y="551"/><use href="#mk" x="250" y="547"/><use href="#mk" x="292" y="547"/><use href="#mk" x="333" y="541"/><use href="#mk" x="374" y="495"/><use href="#mk" x="416" y="481"/><use href="#mk" x="457" y="466"/><use href="#mk" x="499" y="443"/><use href="#mk" x="540" y="420"/><use href="#mk" x="582" y="400"/><use href="#mk" x="623" y="376"/><use href="#mk" x="665" y="348"/><use href="#mk" x="706" y="311"/><use href="#mk" x="747" y="273"/><use href="#mk" x="789" y="249"/><use href="#mk" x="830" y="249"/><use href="#mk" x="872" y="248"/><use href="#mk" x="913" y="248"/><use href="#mk" x="955" y="142"/></g>
<g stroke="#808000" shape-rendering="crispEdges"><line x1="87.5" y1="537.5" x2="129.5" y2="537.5" stroke-width="1.000"/><line x1="129.5" y1="537.5" x2="170.5" y2="562.5" stroke-width="0.990"/><line x1="170.5" y1="562.5" x2="212.5" y2="562.5" stroke-width="1.000"/><line x1="212.5" y1="562.5" x2="253.5" y2="543.5" stroke-width="0.990"/><line x1="253.5" y1="543.5" x2="295.5" y2="519.5" stroke-width="0.990"/><line x1="295.5" y1="519.5" x2="336.5" y2="511.5" stroke-width="0.990"/><line x1="336.5" y1="511.5" x2="377.5" y2="500.5" stroke-width="0.990"/><line x1="377.5" y1="500.5" x2="419.5" y2="484.5" stroke-width="0.990"/><line x1="419.5" y1="484.5" x2="460.5" y2="467.5" stroke-width="0.990"/><line x1="460.5" y1="467.5" x2="502.5" y2="449.5" stroke-width="0.990"/><line x1="502.5" y1="449.5" x2="543.5" y2="433.5" stroke-width="0.990"/><line x1="543.5" y1="433.5" x2="585.5" y2="415.5" stroke-width="0.990"/><line x1="585.5" y1="415.5" x2="626.5" y2="399.5" stroke-width="0.990"/><line x1="626.5" y1="399.5" x2="668.5" y2="379.5" stroke-width="0.990"/><line x1="668.5" y1="379.5" x2="709.5" y2="353.5" stroke-width="0.990"/><line x1="709.5" y1="353.5" x2="750.5" y2="325.5" stroke-width="0.990"/><line x1="750.5" y1="325.5" x2="792.5" y2="312.5" stroke-width="0.990"/><line x1="792.5" y1="312.5" x2="833.5" y2="312.5" stroke-width="1.000"/><line x1="833.5" y1="312.5" x2="875.5" y2="278.5" stroke-width="0.990"/><line x1="875.5" y1="278.5" x2="916.5" y2="278.5" stroke-width="1.000"/><line x1="916.5" y1="278.5" x2="958.5" y2="208.5" stroke-width="0.990"/></g>
<g fill="#808000"><use href="#mk" x="84" y="535"/><use href="#mk" x="126" y="535"/><use href="#mk" x="167" y="560"/><use href="#mk" x="209" y="560"/><use href="#mk" x="250" y="541"/><use href="#mk" x="292" y="517"/><use href="#mk" x="333" y="509"/><use href="#mk" x="374" y="498"/><use href="#mk" x="416" y="482"/><use href="#mk" x="457" y="465"/><use href="#mk" x="499" y="447"/><use href="#mk" x="540" y="431"/><use href="#mk" x="582" y="413"/><use href="#mk" x="623" y="397"/><use href="#mk" x="665" y="377"/><use href="#mk" x="706" y="351"/><use href="#mk" x="747" y="323"/><use href="#mk" x="789" y="310"/><use href="#mk" x="830" y="310"/><use href="#mk" x="872" y="276"/><use href="#mk" x="913" y="276"/><use href="#mk" x="955" y="206"/></g>
<g stroke="#ff00ff" shape-rendering="crispEdges"><line x1="253.5" y1="516.5" x2="295.5" y2="488.5" stroke-width="0.990"/><line x1="295.5" y1="488.5" x2="336.5" y2="465.5" stroke-width="0.990"/><line x1="336.5" y1="465.5" x2="377.5" y2="476.5" stroke-width="0.990"/><line x1="377.5" y1="476.5" x2="419.5" y2="462.5" stroke-width="0.990"/><line x1="419.5" y1="462.5" x2="460.5" y2="443.5" stroke-width="0.990"/><line x1="460.5" y1="443.5" x2="502.5" y2="422.5" stroke-width="0.990"/><line x1="502.5" y1="422.5" x2="543.5" y2="407.5" stroke-width="0.990"/><line x1="543.5" y1="407.5" x2="585.5" y2="390.5" stroke-width="0.990"/><line x1="585.5" y1="390.5" x2="626.5" y2="375.5" stroke-width="0.990"/><line x1="626.5" y1="375.5" x2="668.5" y2="357.5" stroke-width="0.990"/><line x1="668.5" y1="357.5" x2="709.5" y2="331.5" stroke-width="0.990"/><line x1="709.5" y1="331.5" x2="750.5" y2="303.5" stroke-width="0.990"/><line x1="875.5" y1="256.5" x2="916.5" y2="281.5" stroke-width="0.990"/><line x1="916.5" y1="281.5" x2="958.5" y2="193.5" stroke-width="0.990"/></g>
<g fill="#ff00ff"><use href="#mk" x="250" y="514"/><use href="#mk" x="292" y="486"/><use href="#mk" x="333" y="463"/><use href="#mk" x="374" y="474"/><use href="#mk" x="416" y="460"/><use href="#mk" x="457" y="441"/><use href="#mk" x="499" y="420"/><use href="#mk" x="540" y="405"/><use href="#mk" x="582" y="388"/><use href="#mk" x="623" y="373"/><use href="#mk" x="665" y="355"/><use href="#mk" x="706" y="329"/><use href="#mk" x="747" y="301"/><use href="#mk" x="872" y="254"/><use href="#mk" x="913" y="279"/><use href="#mk" x="955" y="191"/></g>
<g stroke="#00ffff" shape-rendering="crispEdges"><line x1="253.5" y1="542.5" x2="295.5" y2="518.5" stroke-width="0.990"/><line x1="295.5" y1="518.5" x2="336.5" y2="510.5" stroke-width="0.990"/><line x1="336.5" y1="510.5" x2="377.5" y2="499.5" stroke-width="0.990"/><line x1="377.5" y1="499.5" x2="419.5" y2="483.5" stroke-width="0.990"/><line x1="419.5" y1="483.5" x2="460.5" y2="464.5" stroke-width="0.990"/><line x1="460.5" y1="464.5" x2="502.5" y2="442.5" stroke-width="0.990"/><line x1="502.5" y1="442.5" x2="543.5" y2="422.5" stroke-width="0.990"/><line x1="543.5" y1="422.5" x2="585.5" y2="406.5" stroke-width="0.990"/><line x1="585.5" y1="406.5" x2="626.5" y2="387.5" stroke-width="0.990"/><line x1="626.5" y1="387.5" x2="668.5" y2="369.5" stroke-width="0.990"/><line x1="668.5" y1="369.5" x2="709.5" y2="342.5" stroke-width="0.990"/><line x1="709.5" y1="342.5" x2="750.5" y2="310.5" stroke-width="0.990"/><line x1="750.5" y1="310.5" x2="792.5" y2="297.5" stroke-width="0.990"/><line x1="792.5" y1="297.5" x2="833.5" y2="297.5" stroke-width="1.000"/><line x1="833.5" y1="297.5" x2="875.5" y2="290.5" stroke-width="0.990"/><line x1="875.5" y1="290.5" x2="916.5" y2="290.5" stroke-width="1.000"/><line x1="916.5" y1="290.5" x2="958.5" y2="204.5" stroke-width="0.990"/></g>
<g fill="#00ffff"><use href="#mk" x="250" y="540"/><use href="#mk" x="292" y="516"/><use href="#mk" x="333" y="508"/><use href="#mk" x="374" y="497"/><use href="#mk" x="416" y="481"/><use href="#mk" x="457" y="462"/><use href="#mk" x="499" y="440"/><use href="#mk" x="540" y="420"/><use href="#mk" x="582" y="404"/><use href="#mk" x="623" y="385"/><use href="#mk" x="665" y="367"/><use href="#mk" x="706" y="340"/><use href="#mk" x="747" y="308"/><use href="#mk" x="789" y="295"/><use href="#mk" x="830" y="295"/><use href="#mk" x="872" y="288"/><use href="#mk" x="913" y="288"/><use href="#mk" x="955" y="202"/></g>
<g stroke="#ffa500" shape-rendering="crispEdges"><line x1="253.5" y1="537.5" x2="295.5" y2="510.5" stroke-width="0.990"/><line x1="295.5" y1="510.5" x2="336.5" y2="502.5" stroke-width="0.990"/><line x1="336.5" y1="502.5" x2="377.5" y2="491.5" stroke-width="0.990"/><line x1="377.5" y1="491.5" x2="419.5" y2="476.5" stroke-width="0.990"/><line x1="419.5" y1="476.5" x2="460.5" y2="458.5" stroke-width="0.990"/><line x1="460.5" y1="458.5" x2="502.5" y2="437.5" stroke-width="0.990"/><line x1="502.5" y1="437.5" x2="543.5" y2="423.5" stroke-width="0.990"/><line x1="543.5" y1="423.5" x2="585.5" y2="406.5" stroke-width="0.990"/><line x1="585.5" y1="406.5" x2="626.5" y2="391.5" stroke-width="0.990"/><line x1="626.5" y1="391.5" x2="668.5" y2="372.5" stroke-width="0.990"/><line x1="668.5" y1="372.5" x2="709.5" y2="347.5" stroke-width="0.990"/><line x1="709.5" y1="347.5" x2="750.5" y2="320.5" stroke-width="0.990"/><line x1="750.5" y1="320.5" x2="792.5" y2="272.5" stroke-width="0.990"/><line x1="792.5" y1="272.5" x2="833.5" y2="267.5" stroke-width="0.990"/><line x1="833.5" y1="267.5" x2="875.5" y2="240.5" stroke-width="0.990"/><line x1="875.5" y1="240.5" x2="916.5" y2="231.5" stroke-width="0.990"/><line x1="916.5" y1="231.5" x2="958.5" y2="140.5" stroke-width="0.990"/></g>
<g fill="#ffa500"><use href="#mk" x="250" y="535"/><use href="#mk" x="292" y="508"/><use href="#mk" x="333" y="500"/><use href="#mk" x="374" y="489"/><use href="#mk" x="416" y="474"/><use href="#mk" x="457" y="456"/><use href="#mk" x="499" y="435"/><use href="#mk" x="540" y="421"/><use href="#mk" x="582" y="404"/><use href="#mk" x="623" y="389"/><use href="#mk" x="665" y="370"/><use href="#mk" x="706" y="345"/><use href="#mk" x="747" y="318"/><use href="#mk" x="789" y="270"/><use href="#mk" x="830" y="265"/><use href="#mk" x="872" y="238"/><use href="#mk" x="913" y="229"/><use href="#mk" x="955" y="138"/></g>
<g fill="#000080"><use href="#a34" x="74" y="518"/><use href="#a39" x="79" y="518"/><use href="#a39" x="84" y="518"/><use href="#a37" x="89" y="518"/><use href="#a38" x="94" y="518"/><use href="#a34" x="116" y="518"/><use href="#a39" x="121" y="518"/><use href="#a39" x="126" y="518"/><use href="#a37" x="131" y="518"/><use href="#a38" x="136" y="518"/><use href="#a34" x="157" y="534"/><use href="#a38" x="162" y="534"/><use href="#a37" x="167" y="534"/><use href="#a38" x="172" y="534"/><use href="#a38" x="177" y="534"/><use href="#a34" x="199" y="534"/><use href="#a38" x="204" y="534"/><use href="#a37" x="209" y="534"/><use href="#a38" x="214" y="534"/><use href="#a38" x="219" y="534"/><use href="#a35" x="240" y="505"/><use href="#a30" x="245" y="505"/><use href="#a39" x="250" y="505"/><use href="#a32" x="255" y="505"/><use href="#a37" x="260" y="505"/><use href="#a35" x="282" y="485"/><use href="#a32" x="287" y="485"/><use href="#a33" x="292" y="485"/><use href="#a35" x="297" y="485"/><use href="#a38" x="302" y="485"/><use href="#a35" x="323" y="477"/><use href="#a32" x="328" y="477"/><use href="#a39" x="333" y="477"/><use href="#a38" x="338" y="477"/><use href="#a36" x="343" y="477"/><use href="#a35" x="364" y="470"/><use href="#a33" x="369" y="470"/><use href="#a34" x="374" y="470"/><use href="#a36" x="379" y="470"/><use href="#a34" x="384" y="470"/><use href="#a35" x="406" y="427"/><use href="#a36" x="411" y="427"/><use href="#a35" x="416" y="427"/><use href="#a37" x="421" y="427"/><use href="#a37" x="426" y="427"/><use href="#a35" x="447" y="408"/><use href="#a37" x="452" y="408"/><use href="#a39" x="457" y="408"/><use href="#a34" x="462" y="408"/><use href="#a32" x="467" y="408"/><use href="#a35" x="489" y="386"/><use href="#a39" x="494" y="386"/><use href="#a35" x="499" y="386"/><use href="#a36" x="504" y="386"/><use href="#a35" x="509" y="386"/><use href="#a36" x="530" y="368"/><use href="#a30" x="535" y="368"/><use href="#a38" x="540" y="368"/><use href="#a37" x="545" y="368"/><use href="#a35" x="550" y="368"/><use href="#a36" x="572" y="349"/><use href="#a32" x="577" y="349"/><use href="#a32" x="582" y="349"/><use href="#a31" x="587" y="349"/><use href="#a35" x="592" y="349"/><use href="#a36" x="613" y="329"/><use href="#a33" x="618" y="329"/><use href="#a36" x="623" y="329"/><use href="#a37" x="628" y="329"/><use href="#a37" x="633" y="329"/><use href="#a36" x="655" y="303"/><use href="#a35" x="660" y="303"/><use href="#a35" x="665" y="303"/><use href="#a38" x="670" y="303"/><use href="#a31" x="675" y="303"/><use href="#a36" x="696" y="275"/><use href="#a37" x="701" y="275"/><use href="#a36" x="706" y="275"/><use href="#a30" x="711" y="275"/><use href="#a37" x="716" y="275"/><use href="#a36" x="737" y="265"/><use href="#a38" x="742" y="265"/><use href="#a33" x="747" y="265"/><use href="#a36" x="752" y="265"/><use href="#a31" x="757" y="265"/><use href="#a36" x="779" y="254"/><use href="#a39" x="784" y="254"/><use href="#a31" x="789" y="254"/><use href="#a34" x="794" y="254"/><use href="#a34" x="799" y="254"/><use href="#a37" x="820" y="237"/><use href="#a30" x="825" y="237"/><use href="#a33" x="830" y="237"/><use href="#a38" x="835" y="237"/><use href="#a38" x="840" y="237"/><use href="#a37" x="862" y="237"/><use href="#a30" x="867" y="237"/><use href="#a33" x="872" y="237"/><use href="#a38" x="877" y="237"/><use href="#a38" x="882" y="237"/><use href="#a37" x="903" y="148"/><use href="#a36" x="908" y="148"/><use href="#a38" x="913" y="148"/><use href="#a35" x="918" y="148"/><use href="#a32" x="923" y="148"/><use href="#a37" x="945" y="116"/><use href="#a39" x="950" y="116"/><use href="#a31" x="955" y="116"/><use href="#a35" x="960" y="116"/><use href="#a38" x="965" y="116"/><use href="#a35" x="74" y="515"/><use href="#a30" x="79" y="515"/><use href="#a32" x="84" y="515"/><use href="#a31" x="89" y="515"/><use href="#a34" x="94" y="515"/><use href="#a35" x="116" y="515"/><use href="#a30" x="121" y="515"/><use href="#a32" x="126" y="515"/><use href="#a31" x="131" y="515"/><use href="#a34" x="136" y="515"/><use href="#a35" x="157" y="515"/><use href="#a30" x="162" y="515"/><use href="#a32" x="167" y="515"/><use href="#a31" x="172" y="515"/><use href="#a34" x="177" y="515"/><use href="#a35" x="199" y="494"/><use href="#a31" x="204" y="494"/><use href="#a37" x="209" y="494"/><use href="#a32" x="214" y="494"/><use href="#a30" x="219" y="494"/><use href="#a35" x="240" y="494"/><use href="#a31" x="245" y="494"/><use href="#a37" x="250" y="494"/><use href="#a32" x="255" y="494"/><use href="#a30" x="260" y="494"/><use href="#a35" x="282" y="465"/><use href="#a33" x="287" y="465"/><use href="#a37" x="292" y="465"/><use href="#a39" x="297" y="465"/><use href="#a33" x="302" y="465"/><use href="#a35" x="323" y="457"/><use href="#a34" x="328" y="457"/><use href="#a34" x="333" y="457"/><use href="#a33" x="338" y="457"/><use href="#a38" x="343" y="457"/><use href="#a35" x="364" y="420"/><use href="#a37" x="369" y="420"/><use href="#a30" x="374" y="420"/><use href="#a37" x="379" y="420"/><use href="#a39" x="384" y="420"/><use href="#a35" x="406" y="402"/><use href="#a38" x="411" y="402"/><use href="#a33" x="416" y="402"/><use href="#a37" x="421" y="402"/><use href="#a38" x="426" y="402"/><use href="#a36" x="447" y="369"/><use href="#a30" x="452" y="369"/><use href="#a38" x="457" y="369"/><use href="#a32" x="462" y="369"/><use href="#a33" x="467" y="369"/><use href="#a36" x="489" y="344"/><use href="#a32" x="494" y="344"/><use href="#a36" x="499" y="344"/><use href="#a31" x="504" y="344"/><use href="#a37" x="509" y="344"/><use href="#a36" x="530" y="326"/><use href="#a33" x="535" y="326"/><use href="#a39" x="540" y="326"/><use href="#a33" x="545" y="326"/><use href="#a31" x="550" y="326"/><use href="#a36" x="572" y="306"/><use href="#a35" x="577" y="306"/><use href="#a34" x="582" y="306"/><use href="#a30" x="587" y="306"/><use href="#a31" x="592" y="306"/><use href="#a36" x="613" y="288"/><use href="#a36" x="618" y="288"/><use href="#a37" x="623" y="288"/><use href="#a30" x="628" y="288"/><use href="#a39" x="633" y="288"/><use href="#a36" x="655" y="266"/><use href="#a38" x="660" y="266"/><use href="#a32" x="665" y="266"/><use href="#a37" x="670" y="266"/><use href="#a36" x="675" y="266"/><use href="#a37" x="696" y="236"/><use href="#a30" x="701" y="236"/><use href="#a34" x="706" y="236"/><use href="#a36" x="711" y="236"/><use href="#a30" x="716" y="236"/><use href="#a37" x="737" y="159"/><use href="#a36" x="742" y="159"/><use href="#a30" x="747" y="159"/><use href="#a33" x="752" y="159"/><use href="#a33" x="757" y="159"/><use href="#a37" x="779" y="144"/><use href="#a37" x="784" y="144"/><use href="#a30" x="789" y="144"/><use href="#a39" x="794" y="144"/><use href="#a37" x="799" y="144"/><use href="#a37" x="820" y="144"/><use href="#a37" x="825" y="144"/><use href="#a30" x="830" y="144"/><use href="#a39" x="835" y="144"/><use href="#a37" x="840" y="144"/><use href="#a37" x="862" y="110"/><use href="#a39" x="867" y="110"/><use href="#a36" x="872" y="110"/><use href="#a30" x="877" y="110"/><use href="#a35" x="882" y="110"/><use href="#a37" x="903" y="110"/><use href="#a39" x="908" y="110"/><use href="#a36" x="913" y="110"/><use href="#a30" x="918" y="110"/><use href="#a35" x="923" y="110"/><use href="#a38" x="945" y="10"/><use href="#a36" x="950" y="10"/><use href="#a38" x="955" y="10"/><use href="#a34" x="960" y="10"/><use href="#a38" x="965" y="10"/><use href="#a34" x="74" y="542"/><use href="#a38" x="79" y="542"/><use href="#a32" x="84" y="542"/><use href="#a33" x="89" y="542"/><use href="#a38" x="94" y="542"/><use href="#a34" x="116" y="542"/><use href="#a38" x="121" y="542"/><use href="#a32" x="126" y="542"/><use href="#a33" x="131" y="542"/><use href="#a38" x="136" y="542"/><use href="#a34" x="157" y="542"/><use href="#a38" x="162" y="542"/><use href="#a32" x="167" y="542"/><use href="#a33" x="172" y="542"/><use href="#a38" x="177" y="542"/><use href="#a34" x="199" y="542"/><use href="#a38" x="204" y="542"/><use href="#a32" x="209" y="542"/><use href="#a33" x="214" y="542"/><use href="#a38" x="219" y="542"/><use href="#a34" x="240" y="538"/><use href="#a38" x="245" y="538"/><use href="#a35" x="250" y="538"/><use href="#a33" x="255" y="538"/><use href="#a38" x="260" y="538"/><use href="#a34" x="282" y="538"/><use href="#a38" x="287" y="538"/><use href="#a35" x="292" y="538"/><use href="#a33" x="297" y="538"/><use href="#a38" x="302" y="538"/><use href="#a34" x="323" y="532"/><use href="#a38" x="328" y="532"/><use href="#a39" x="333" y="532"/><use href="#a35" x="338" y="532"/><use href="#a32" x="343" y="532"/><use href="#a35" x="364" y="486"/><use href="#a32" x="369" y="486"/><use href="#a33" x="374" y="486"/><use href="#a31" x="379" y="486"/><use href="#a35" x="384" y="486"/><use href="#a35" x="406" y="472"/><use href="#a33" x="411" y="472"/><use href="#a33" x="416" y="472"/><use href="#a30" x="421" y="472"/><use href="#a35" x="426" y="472"/><use href="#a35" x="447" y="457"/><use href="#a34" x="452" y="457"/><use href="#a34" x="457" y="457"/><use href="#a30" x="462" y="457"/><use href="#a35" x="467" y="457"/><use href="#a35" x="489" y="434"/><use href="#a36" x="494" y="434"/><use href="#a30" x="499" y="434"/><use href="#a34" x="504" y="434"/><use href="#a35" x="509" y="434"/><use href="#a35" x="530" y="411"/><use href="#a37" x="535" y="411"/><use href="#a37" x="540" y="411"/><use href="#a31" x="545" y="411"/><use href="#a34" x="550" y="411"/><use href="#a35" x="572" y="391"/><use href="#a39" x="577" y="391"/><use href="#a32" x="582" y="391"/><use href="#a30" x="587" y="391"/><use href="#a32" x="592" y="391"/><use href="#a36" x="613" y="367"/><use href="#a30" x="618" y="367"/><use href="#a39" x="623" y="367"/><use href="#a35" x="628" y="367"/><use href="#a35" x="633" y="367"/><use href="#a36" x="655" y="339"/><use href="#a32" x="660" y="339"/><use href="#a39" x="665" y="339"/><use href="#a38" x="670" y="339"/><use href="#a32" x="675" y="339"/><use href="#a36" x="696" y="302"/><use href="#a35" x="701" y="302"/><use href="#a36" x="706" y="302"/><use href="#a35" x="711" y="302"/><use href="#a32" x="716" y="302"/><use href="#a36" x="737" y="264"/><use href="#a38" x="742" y="264"/><use href="#a34" x="747" y="264"/><use href="#a32" x="752" y="264"/><use href="#a34" x="757" y="264"/><use href="#a37" x="779" y="240"/><use href="#a30" x="784" y="240"/><use href="#a31" x="789" y="240"/><use href="#a32" x="794" y="240"/><use href="#a35" x="799" y="240"/><use href="#a37" x="820" y="240"/><use href="#a30" x="825" y="240"/><use href="#a31" x="830" y="240"/><use href="#a32" x="835" y="240"/><use href="#a35" x="840" y="240"/><use href="#a37" x="862" y="239"/><use href="#a30" x="867" y="239"/><use href="#a32" x="872" y="239"/><use href="#a36" x="877" y="239"/><use href="#a32" x="882" y="239"/><use href="#a37" x="903" y="239"/><use href="#a30" x="908" y="239"/><use href="#a32" x="913" y="239"/><use href="#a36" x="918" y="239"/><use href="#a32" x="923" y="239"/><use href="#a37" x="945" y="133"/><use href="#a37" x="950" y="133"/><use href="#a39" x="955" y="133"/><use href="#a32" x="960" y="133"/><use href="#a37" x="965" y="133"/><use href="#a34" x="74" y="526"/><use href="#a39" x="79" y="526"/><use href="#a33" x="84" y="526"/><use href="#a38" x="89" y="526"/><use href="#a33" x="94" y="526"/><use href="#a34" x="116" y="526"/><use href="#a39" x="121" y="526"/><use href="#a33" x="126" y="526"/><use href="#a38" x="131" y="526"/><use href="#a33" x="136" y="526"/><use href="#a34" x="157" y="551"/><use href="#a37" x="162" y="551"/><use href="#a35" x="167" y="551"/><use href="#a39" x="172" y="551"/><use href="#a38" x="177" y="551"/><use href="#a34" x="199" y="551"/><use href="#a37" x="204" y="551"/><use href="#a35" x="209" y="551"/><use href="#a39" x="214" y="551"/><use href="#a38" x="219" y="551"/><use href="#a34" x="240" y="532"/><use href="#a38" x="245" y="532"/><use href="#a39" x="250" y="532"/><use href="#a37" x="255" y="532"/><use href="#a30" x="260" y="532"/><use href="#a35" x="282" y="508"/><use href="#a30" x="287" y="508"/><use href="#a37" x="292" y="508"/><use href="#a33" x="297" y="508"/><use href="#a34" x="302" y="508"/><use href="#a35" x="323" y="500"/><use href="#a31" x="328" y="500"/><use href="#a32" x="333" y="500"/><use href="#a36" x="338" y="500"/><use href="#a33" x="343" y="500"/><use href="#a35" x="364" y="489"/><use href="#a32" x="369" y="489"/><use href="#a31" x="374" y="489"/><use href="#a31" x="379" y="489"/><use href="#a33" x="384" y="489"/><use href="#a35" x="406" y="473"/><use href="#a33" x="411" y="473"/><use href="#a32" x="416" y="473"/><use href="#a34" x="421" y="473"/><use href="#a35" x="426" y="473"/><use href="#a35" x="447" y="456"/><use href="#a34" x="452" y="456"/><use href="#a34" x="457" y="456"/><use href="#a38" x="462" y="456"/><use href="#a36" x="467" y="456"/><use href="#a35" x="489" y="438"/><use href="#a35" x="494" y="438"/><use href="#a37" x="499" y="438"/><use href="#a38" x="504" y="438"/><use href="#a31" x="509" y="438"/><use href="#a35" x="530" y="422"/><use href="#a36" x="535" y="422"/><use href="#a39" x="540" y="422"/><use href="#a36" x="545" y="422"/><use href="#a33" x="550" y="422"/><use href="#a35" x="572" y="404"/><use href="#a38" x="577" y="404"/><use href="#a32" x="582" y="404"/><use href="#a37" x="587" y="404"/><use href="#a33" x="592" y="404"/><use href="#a35" x="613" y="388"/><use href="#a39" x="618" y="388"/><use href="#a34" x="623" y="388"/><use href="#a33" x="628" y="388"/><use href="#a38" x="633" y="388"/><use href="#a36" x="655" y="368"/><use href="#a30" x="660" y="368"/><use href="#a38" x="665" y="368"/><use href="#a33" x="670" y="368"/><use href="#a35" x="675" y="368"/><use href="#a36" x="696" y="342"/><use href="#a32" x="701" y="342"/><use href="#a37" x="706" y="342"/><use href="#a35" x="711" y="342"/><use href="#a32" x="716" y="342"/><use href="#a36" x="737" y="314"/><use href="#a34" x="742" y="314"/><use href="#a37" x="747" y="314"/><use href="#a39" x="752" y="314"/><use href="#a31" x="757" y="314"/><use href="#a36" x="779" y="301"/><use href="#a35" x="784" y="301"/><use href="#a36" x="789" y="301"/><use href="#a39" x="794" y="301"/><use href="#a39" x="799" y="301"/><use href="#a36" x="820" y="301"/><use href="#a35" x="825" y="301"/><use href="#a36" x="830" y="301"/><use href="#a39" x="835" y="301"/><use href="#a39" x="840" y="301"/><use href="#a36" x="862" y="267"/><use href="#a38" x="867" y="267"/><use href="#a31" x="872" y="267"/><use href="#a38" x="877" y="267"/><use href="#a32" x="882" y="267"/><use href="#a36" x="903" y="267"/><use href="#a38" x="908" y="267"/><use href="#a31" x="913" y="267"/><use href="#a38" x="918" y="267"/><use href="#a32" x="923" y="267"/><use href="#a37" x="945" y="197"/><use href="#a33" x="950" y="197"/><use href="#a32" x="955" y="197"/><use href="#a39" x="960" y="197"/><use href="#a36" x="965" y="197"/><use href="#a35" x="240" y="505"/><use href="#a30" x="245" y="505"/><use href="#a39" x="250" y="505"/><use href="#a33" x="255" y="505"/><use href="#a37" x="260" y="505"/><use href="#a35" x="282" y="477"/><use href="#a32" x="287" y="477"/><use href="#a39" x="292" y="477"/><use href="#a37" x="297" y="477"/><use href="#a34" x="302" y="477"/><use href="#a35" x="323" y="454"/><use href="#a34" x="328" y="454"/><use href="#a36" x="333" y="454"/><use href="#a35" x="338" y="454"/><use href="#a31" x="343" y="454"/><use href="#a35" x="364" y="465"/><use href="#a33" x="369" y="465"/><use href="#a38" x="374" y="465"/><use href="#a33" x="379" y="465"/><use href="#a30" x="384" y="465"/><use href="#a35" x="406" y="451"/><use href="#a34" x="411" y="451"/><use href="#a38" x="416" y="451"/><use href="#a35" x="421" y="451"/><use href="#a32" x="426" y="451"/><use href="#a35" x="447" y="432"/><use href="#a36" x="452" y="432"/><use href="#a31" x="457" y="432"/><use href="#a39" x="462" y="432"/><use href="#a36" x="467" y="432"/><use href="#a35" x="489" y="411"/><use href="#a37" x="494" y="411"/><use href="#a37" x="499" y="411"/><use href="#a34" x="504" y="411"/><use href="#a32" x="509" y="411"/><use href="#a35" x="530" y="396"/><use href="#a38" x="535" y="396"/><use href="#a38" x="540" y="396"/><use href="#a33" x="545" y="396"/><use href="#a39" x="550" y="396"/><use href="#a36" x="572" y="379"/><use href="#a30" x="577" y="379"/><use href="#a30" x="582" y="379"/><use href="#a37" x="587" y="379"/><use href="#a34" x="592" y="379"/><use href="#a36" x="613" y="364"/><use href="#a31" x="618" y="364"/><use href="#a31" x="623" y="364"/><use href="#a35" x="628" y="364"/><use href="#a35" x="633" y="364"/><use href="#a36" x="655" y="346"/><use href="#a32" x="660" y="346"/><use href="#a34" x="665" y="346"/><use href="#a37" x="670" y="346"/><use href="#a30" x="675" y="346"/><use href="#a36" x="696" y="320"/><use href="#a34" x="701" y="320"/><use href="#a33" x="706" y="320"/><use href="#a34" x="711" y="320"/><use href="#a34" x="716" y="320"/><use href="#a36" x="737" y="292"/><use href="#a36" x="742" y="292"/><use href="#a34" x="747" y="292"/><use href="#a30" x="752" y="292"/><use href="#a33" x="757" y="292"/><use href="#a36" x="862" y="245"/><use href="#a39" x="867" y="245"/><use href="#a37" x="872" y="245"/><use href="#a36" x="877" y="245"/><use href="#a31" x="882" y="245"/><use href="#a36" x="903" y="270"/><use href="#a38" x="908" y="270"/><use href="#a30" x="913" y="270"/><use href="#a30" x="918" y="270"/><use href="#a39" x="923" y="270"/><use href="#a37" x="945" y="182"/><use href="#a34" x="950" y="182"/><use href="#a33" x="955" y="182"/><use href="#a38" x="960" y="182"/><use href="#a34" x="965" y="182"/><use href="#a34" x="240" y="531"/><use href="#a39" x="245" y="531"/><use href="#a30" x="250" y="531"/><use href="#a32" x="255" y="531"/><use href="#a30" x="260" y="531"/><use href="#a35" x="282" y="507"/><use href="#a30" x="287" y="507"/><use href="#a37" x="292" y="507"/><use href="#a39" x="297" y="507"/><use href="#a35" x="302" y="507"/><use href="#a35" x="323" y="499"/><use href="#a31" x="328" y="499"/><use href="#a33" x="333" y="499"/><use href="#a35" x="338" y="499"/><use href="#a33" x="343" y="499"/><use href="#a35" x="364" y="488"/><use href="#a32" x="369" y="488"/><use href="#a31" x="374" y="488"/><use href="#a33" x="379" y="488"/><use href="#a33" x="384" y="488"/><use href="#a35" x="406" y="472"/><use href="#a33" x="411" y="472"/><use href="#a32" x="416" y="472"/><use href="#a38" x="421" y="472"/><use href="#a35" x="426" y="472"/><use href="#a35" x="447" y="453"/><use href="#a34" x="452" y="453"/><use href="#a37" x="457" y="453"/><use href="#a30" x="462" y="453"/><use href="#a34" x="467" y="453"/><use href="#a35" x="489" y="431"/><use href="#a36" x="494" y="431"/><use href="#a33" x="499" y="431"/><use href="#a32" x="504" y="431"/><use href="#a35" x="509" y="431"/><use href="#a35" x="530" y="411"/><use href="#a37" x="535" y="411"/><use href="#a37" x="540" y="411"/><use href="#a37" x="545" y="411"/><use href="#a34" x="550" y="411"/><use href="#a35" x="572" y="395"/><use href="#a38" x="577" y="395"/><use href="#a39" x="582" y="395"/><use href="#a30" x="587" y="395"/><use href="#a30" x="592" y="395"/><use href="#a36" x="613" y="376"/><use href="#a30" x="618" y="376"/><use href="#a32" x="623" y="376"/><use href="#a36" x="628" y="376"/><use href="#a32" x="633" y="376"/><use href="#a36" x="655" y="358"/><use href="#a31" x="660" y="358"/><use href="#a35" x="665" y="358"/><use href="#a39" x="670" y="358"/><use href="#a38" x="675" y="358"/><use href="#a36" x="696" y="331"/><use href="#a33" x="701" y="331"/><use href="#a35" x="706" y="331"/><use href="#a33" x="711" y="331"/><use href="#a36" x="716" y="331"/><use href="#a36" x="737" y="299"/><use href="#a35" x="742" y="299"/><use href="#a38" x="747" y="299"/><use href="#a36" x="752" y="299"/><use href="#a39" x="757" y="299"/><use href="#a36" x="779" y="286"/><use href="#a36" x="784" y="286"/><use href="#a37" x="789" y="286"/><use href="#a38" x="794" y="286"/><use href="#a37" x="799" y="286"/><use href="#a36" x="820" y="286"/><use href="#a36" x="825" y="286"/><use href="#a37" x="830" y="286"/><use href="#a38" x="835" y="286"/><use href="#a37" x="840" y="286"/><use href="#a36" x="862" y="279"/><use href="#a37" x="867" y="279"/><use href="#a32" x="872" y="279"/><use href="#a39" x="877" y="279"/><use href="#a39" x="882" y="279"/><use href="#a36" x="903" y="279"/><use href="#a37" x="908" y="279"/><use href="#a32" x="913" y="279"/><use href="#a39" x="918" y="279"/><use href="#a39" x="923" y="279"/><use href="#a37" x="945" y="193"/><use href="#a33" x="950" y="193"/><use href="#a35" x="955" y="193"/><use href="#a36" x="960" y="193"/><use href="#a30" x="965" y="193"/><use href="#a34" x="240" y="526"/><use href="#a39" x="245" y="526"/><use href="#a33" x="250" y="526"/><use href="#a37" x="255" y="526"/><use href="#a38" x="260" y="526"/><use href="#a35" x="282" y="499"/><use href="#a31" x="287" y="499"/><use href="#a33" x="292" y="499"/><use href="#a34" x="297" y="499"/><use href="#a32" x="302" y="499"/><use href="#a35" x="323" y="491"/><use href="#a31" x="328" y="491"/><use href="#a39" x="333" y="491"/><use href="#a35" x="338" y="491"/><use href="#a33" x="343" y="491"/><use href="#a35" x="364" y="480"/><use href="#a32" x="369" y="480"/><use href="#a37" x="374" y="480"/><use href="#a32" x="379" y="480"/><use href="#a36" x="384" y="480"/><use href="#a35" x="406" y="465"/><use href="#a33" x="411" y="465"/><use href="#a38" x="416" y="465"/><use href="#a32" x="421" y="465"/><use href="#a30" x="426" y="465"/><use href="#a35" x="447" y="447"/><use href="#a35" x="452" y="447"/><use href="#a31" x="457" y="447"/><use href="#a32" x="462" y="447"/><use href="#a39" x="467" y="447"/><use href="#a35" x="489" y="426"/><use href="#a36" x="494" y="426"/><use href="#a36" x="499" y="426"/><use href="#a33" x="504" y="426"/><use href="#a34" x="509" y="426"/><use href="#a35" x="530" y="412"/><use href="#a37" x="535" y="412"/><use href="#a36" x="540" y="412"/><use href="#a39" x="545" y="412"/><use href="#a31" x="550" y="412"/><use href="#a35" x="572" y="395"/><use href="#a38" x="577" y="395"/><use href="#a39" x="582" y="395"/><use href="#a30" x="587" y="395"/><use href="#a36" x="592" y="395"/><use href="#a35" x="613" y="380"/><use href="#a39" x="618" y="380"/><use href="#a39" x="623" y="380"/><use href="#a35" x="628" y="380"/><use href="#a39" x="633" y="380"/><use href="#a36" x="655" y="361"/><use href="#a31" x="660" y="361"/><use href="#a33" x="665" y="361"/><use href="#a39" x="670" y="361"/><use href="#a30" x="675" y="361"/><use href="#a36" x="696" y="336"/><use href="#a33" x="701" y="336"/><use href="#a31" x="706" y="336"/><use href="#a39" x="711" y="336"/><use href="#a33" x="716" y="336"/><use href="#a36" x="737" y="309"/><use href="#a35" x="742" y="309"/><use href="#a31" x="747" y="309"/><use href="#a35" x="752" y="309"/><use href="#a32" x="757" y="309"/><use href="#a36" x="779" y="261"/><use href="#a38" x="784" y="261"/><use href="#a36" x="789" y="261"/><use href="#a31" x="794" y="261"/><use href="#a30" x="799" y="261"/><use href="#a36" x="820" y="256"/><use href="#a39" x="825" y="256"/><use href="#a30" x="830" y="256"/><use href="#a31" x="835" y="256"/><use href="#a39" x="840" y="256"/><use href="#a37" x="862" y="229"/><use href="#a30" x="867" y="229"/><use href="#a39" x="872" y="229"/><use href="#a34" x="877" y="229"/><use href="#a30" x="882" y="229"/><use href="#a37" x="903" y="220"/><use href="#a31" x="908" y="220"/><use href="#a36" x="913" y="220"/><use href="#a30" x="918" y="220"/><use href="#a38" x="923" y="220"/><use href="#a37" x="945" y="129"/><use href="#a38" x="950" y="129"/><use href="#a32" x="955" y="129"/><use href="#a34" x="960" y="129"/><use href="#a37" x="965" y="129"/></g>
<rect x="105" y="594" width="13" height="2" fill="#ff0000"/><use href="#mk" x="108" y="592" fill="#ff0000"/><g fill="#000080"><use href="#a42" x="121" y="591"/><use href="#a75" x="126" y="591"/><use href="#a6e" x="131" y="591"/><use href="#a64" x="136" y="591"/></g><rect x="219" y="594" width="13" height="2" fill="#00ff00"/><use href="#mk" x="222" y="592" fill="#00ff00"/><g fill="#000080"><use href="#a42" x="235" y="591"/><use href="#a61" x="240" y="591"/><use href="#a79" x="245" y="591"/><use href="#a65" x="250" y="591"/><use href="#a72" x="255" y="591"/><use href="#a6e" x="260" y="591"/></g><rect x="333" y="594" width="13" height="2" fill="#0000ff"/><use href="#mk" x="336" y="592" fill="#0000ff"/><g fill="#000080"><use href="#a42" x="349" y="591"/><use href="#a65" x="354" y="591"/><use href="#a72" x="359" y="591"/><use href="#a6c" x="364" y="591"/><use href="#a69" x="369" y="591"/><use href="#a6e" x="374" y="591"/></g><rect x="447" y="594" width="13" height="2" fill="#808000"/><use href="#mk" x="450" y="592" fill="#808000"/><g fill="#000080"><use href="#a42" x="463" y="591"/><use href="#a72" x="468" y="591"/><use href="#a65" x="473" y="591"/><use href="#a6d" x="478" y="591"/><use href="#a65" x="483" y="591"/><use href="#a6e" x="488" y="591"/></g><rect x="561" y="594" width="13" height="2" fill="#ff00ff"/><use href="#mk" x="564" y="592" fill="#ff00ff"/><g fill="#000080"><use href="#a48" x="577" y="591"/><use href="#a61" x="582" y="591"/><use href="#a6d" x="587" y="591"/><use href="#a62" x="592" y="591"/><use href="#a75" x="597" y="591"/><use href="#a72" x="602" y="591"/><use href="#a67" x="607" y="591"/></g><rect x="675" y="594" width="13" height="2" fill="#00ffff"/><use href="#mk" x="678" y="592" fill="#00ffff"/><g fill="#000080"><use href="#a4e" x="691" y="591"/><use href="#a69" x="696" y="591"/><use href="#a65" x="701" y="591"/><use href="#a64" x="706" y="591"/><use href="#a65" x="711" y="591"/><use href="#a72" x="716" y="591"/><use href="#a73" x="721" y="591"/><use href="#a61" x="726" y="591"/><use href="#a63" x="731" y="591"/><use href="#a68" x="736" y="591"/><use href="#a73" x="741" y="591"/><use href="#a65" x="746" y="591"/><use href="#a6e" x="751" y="591"/></g><rect x="789" y="594" width="13" height="2" fill="#ffa500"/><use href="#mk" x="792" y="592" fill="#ffa500"/><g fill="#000080"><use href="#a53" x="805" y="591"/><use href="#a63" x="810" y="591"/><use href="#a68" x="815" y="591"/><use href="#a6c" x="820" y="591"/><use href="#a65" x="825" y="591"/><use href="#a73" x="830" y="591"/><use href="#a77" x="835" y="591"/><use href="#a69" x="840" y="591"/><use href="#a67" x="845" y="591"/><use href="#a2d" x="850" y="591"/><use href="#a48" x="855" y="591"/><use href="#a6f" x="860" y="591"/><use href="#a6c" x="865" y="591"/><use href="#a73" x="870" y="591"/><use href="#a74" x="875" y="591"/><use href="#a65" x="880" y="591"/><use href="#a69" x="885" y="591"/><use href="#a6e" x="890" y="591"/></g>
</svg></body></html>
